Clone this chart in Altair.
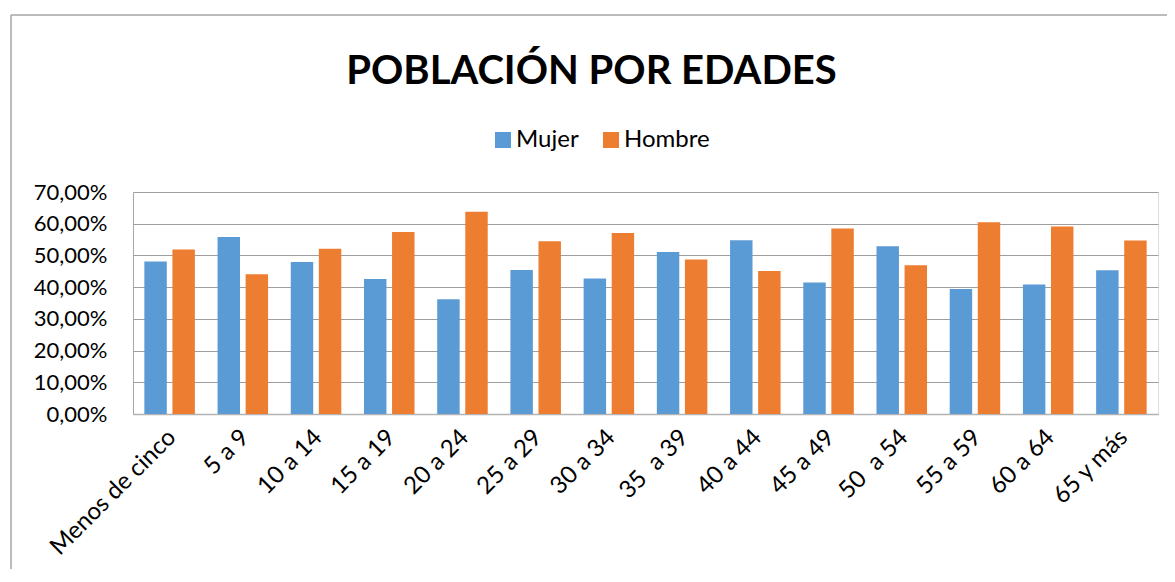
import altair as alt
import pandas as pd

categorias = ["Menos de cinco", "5 a 9", "10 a 14", "15 a 19", "20 a 24", "25 a 29",
              "30 a 34", "35 \u00a0a 39", "40 a 44", "45 a 49", "50 \u00a0a 54", "55 a 59",
              "60 a 64", "65 y más"]
mujer = [0.481, 0.558, 0.479, 0.426, 0.362, 0.454, 0.427, 0.511, 0.548, 0.415, 0.529, 0.394, 0.408, 0.453]
hombre = [0.519, 0.441, 0.521, 0.574, 0.638, 0.545, 0.571, 0.487, 0.451, 0.585, 0.469, 0.605, 0.591, 0.547]
series = ["Mujer", "Hombre"]
colores = ["#5B9BD5", "#ED7D31"]
ticks_y = [0, 0.1, 0.2, 0.3, 0.4, 0.5, 0.6, 0.7]

rows = []
for c, m, h in zip(categorias, mujer, hombre):
    rows.append({"Edad": c, "Sexo": "Mujer", "Valor": m})
    rows.append({"Edad": c, "Sexo": "Hombre", "Valor": h})
df = pd.DataFrame(rows)

FONT = "Lato"

bars = alt.Chart(df).mark_bar().encode(
    x=alt.X("Edad:N", sort=categorias, title=None,
            scale=alt.Scale(paddingInner=0.31, paddingOuter=0.155),
            axis=alt.Axis(labelAngle=-45, labelFontSize=24, labelFont=FONT, labelColor="#000000",
                          ticks=False, labelPadding=11, labelOffset=-6,
                          domainColor="#b3b3b3", domainWidth=1.5, grid=False)),
    xOffset=alt.XOffset("Sexo:N", sort=series, scale=alt.Scale(paddingInner=0.2)),
    y=alt.Y("Valor:Q", title=None, scale=alt.Scale(domain=[0, 0.7], nice=False),
            axis=alt.Axis(values=ticks_y, labelExpr="replace(format(datum.value, '.2%'), '.', ',')",
                          labelFontSize=22, labelFont=FONT, labelColor="#000000", ticks=False,
                          labelPadding=26, domainColor="#a6a6a6", gridColor="#9e9e9e",
                          gridWidth=1)),
    color=alt.Color("Sexo:N", sort=series,
                    scale=alt.Scale(domain=series, range=colores),
                    legend=alt.Legend(title=None, orient="none", legendX=358, legendY=-64,
                                      direction="horizontal", symbolType="square", symbolSize=256,
                                      symbolStrokeWidth=0, labelFontSize=24, labelFont=FONT,
                                      labelColor="#000000", columnPadding=20, labelOffset=1)),
)

frame = pd.DataFrame({"k": [0]})
top_line = alt.Chart(frame).mark_rule(color="#a6a6a6", strokeWidth=1.5).encode(
    x=alt.value(-122), x2=alt.value(1060), y=alt.value(-177))
left_line = alt.Chart(frame).mark_rule(color="#a6a6a6", strokeWidth=1.5).encode(
    x=alt.value(-122), y=alt.value(-177), y2=alt.value(400))

chart = alt.layer(bars, top_line, left_line).properties(
    width=1025, height=222,
    title=alt.Title("POBLACIÓN POR EDADES", fontSize=40, font=FONT, fontWeight="bold",
                    color="#000000", anchor="middle", dx=-54, offset=0, baseline="alphabetic",
                    dy=110),
    autosize=alt.AutoSizeParams(type="none"),
    padding={"left": 125, "top": 184, "right": 9, "bottom": 155},
).configure_view(stroke=None).configure(background="white")

chart.save("out.html", embed_options={"renderer": "svg", "actions": False})
